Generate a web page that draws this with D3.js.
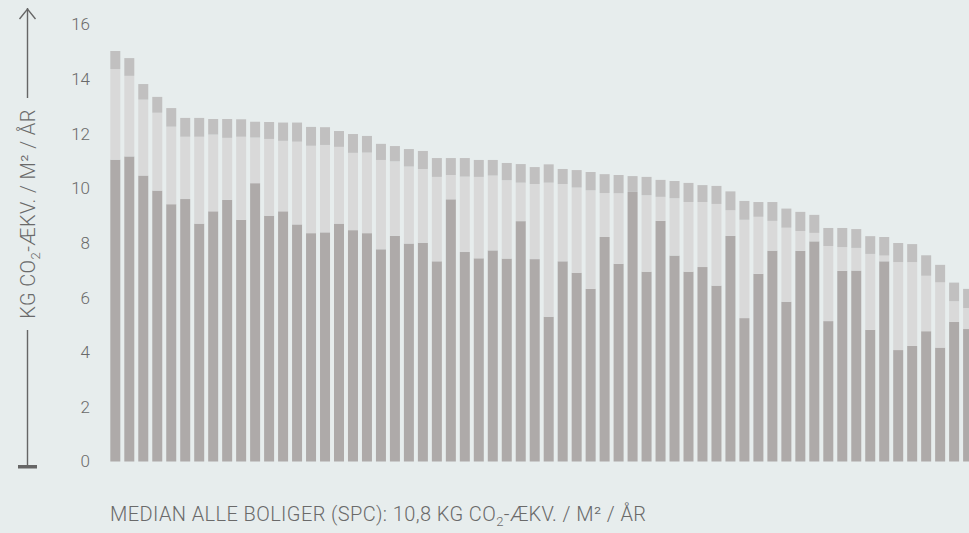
<!DOCTYPE html>
<html>
<head>
<meta charset="utf-8">
<script src="https://cdn.jsdelivr.net/npm/d3@7"></script>
<style>
  html, body { margin: 0; padding: 0; background: #e7eded; }
  svg { display: block; font-family: Roboto, "Noto Sans", sans-serif; }
</style>
</head>
<body>
<svg id="chart"></svg>
<script>
// The svg
var width = 969;
var height = 533;

// Boliger sorteret efter samlet udledning (kg CO2-ækv. / m2 / år)
const boliger = d3.range(62);

// Nederste del (mørk)
const bund = [11.05, 11.17, 10.47, 9.92, 9.42, 9.61, 8.71, 9.16, 9.58, 8.85,
              10.19, 9.00, 9.16, 8.68, 8.36, 8.39, 8.71, 8.47, 8.36, 7.77,
              8.26, 7.98, 8.01, 7.33, 9.60, 7.67, 7.44, 7.73, 7.43, 8.80,
              7.41, 5.30, 7.33, 6.91, 6.32, 8.22, 7.24, 9.87, 6.95, 8.81,
              7.54, 6.95, 7.12, 6.44, 8.26, 5.25, 6.87, 7.72, 5.85, 7.71,
              8.06, 5.14, 6.98, 6.99, 4.82, 7.33, 4.08, 4.23, 4.77, 4.17,
              5.11, 4.85];

// Midterste del (lys)
const midte = [3.32, 2.95, 2.78, 2.85, 2.84, 2.28, 3.18, 2.81, 2.27, 3.04,
               1.67, 2.81, 2.58, 3.03, 3.20, 3.20, 2.81, 2.83, 2.95, 3.27,
               2.73, 2.82, 2.70, 3.09, 0.89, 2.76, 2.98, 2.74, 2.87, 1.41,
               2.75, 4.91, 2.83, 3.12, 3.61, 1.61, 2.58, 0.00, 2.80, 0.88,
               2.10, 2.55, 2.38, 2.99, 0.94, 3.60, 2.09, 1.09, 2.71, 0.73,
               0.31, 2.75, 0.87, 0.83, 2.78, 0.21, 3.22, 3.07, 2.03, 2.39,
               0.76, 0.77];

// Øverste del (mellem)
const top_ = [0.66, 0.65, 0.57, 0.58, 0.68, 0.69, 0.69, 0.57, 0.69, 0.64,
              0.58, 0.62, 0.67, 0.70, 0.69, 0.65, 0.58, 0.69, 0.61, 0.59,
              0.56, 0.64, 0.66, 0.69, 0.62, 0.68, 0.62, 0.57, 0.63, 0.68,
              0.62, 0.67, 0.55, 0.64, 0.67, 0.69, 0.67, 0.58, 0.67, 0.62,
              0.63, 0.70, 0.62, 0.66, 0.69, 0.69, 0.54, 0.69, 0.70, 0.70,
              0.66, 0.66, 0.70, 0.69, 0.65, 0.68, 0.70, 0.66, 0.75, 0.64,
              0.68, 0.70];

const yTicks = [0, 2, 4, 6, 8, 10, 12, 14, 16];
const keys = ["bund", "midte", "top"];
const colors = { bund: "#aeaaa9", midte: "#d9d9d9", top: "#c1c0c0" };

const textColor = "#6a6a6a";
const axisColor = "#666666";

const svg = d3.select("#chart")
    .attr("width", width)
    .attr("height", height);

svg.append("rect")
    .attr("width", width)
    .attr("height", height)
    .attr("fill", "#e7eded");

// Scales
const x = d3.scaleBand()
    .domain(boliger)
    .range([108.33, 108.33 + 62 * 13.98])
    .paddingInner(0.285)
    .paddingOuter(0.1425);

const y = d3.scaleLinear()
    .domain([0, 16])
    .range([461.5, 24.5]);

// Stack the data
const rows = boliger.map(i => ({ bund: bund[i], midte: midte[i], top: top_[i] }));
const series = d3.stack().keys(keys)(rows);

svg.append("g")
    .attr("class", "bars")
    .selectAll("g")
    .data(series)
    .join("g")
      .attr("fill", d => colors[d.key])
    .selectAll("rect")
    .data(d => d.map((v, i) => ({ v, i })))
    .join("rect")
      .attr("x", d => x(d.i))
      .attr("y", d => y(d.v[1]))
      .attr("width", x.bandwidth())
      .attr("height", d => Math.max(0, y(d.v[0]) - y(d.v[1])));

// Y tick labels
const yAxis = d3.axisLeft(y).tickValues(yTicks).tickSize(0).tickPadding(0);
const gy = svg.append("g")
    .attr("transform", "translate(90,0)")
    .call(yAxis);
gy.select(".domain").remove();
gy.selectAll("text")
    .attr("fill", textColor)
    .style("font-size", "17px")
    .style("font-weight", 300)
    .style("font-family", "Roboto, sans-serif");

// Y axis arrow line with label
const axisX = 27.5;
const labelY = 214;
const labelHalf = 116;
svg.append("line")
    .attr("x1", axisX).attr("x2", axisX)
    .attr("y1", 8).attr("y2", labelY - labelHalf)
    .attr("stroke", axisColor).attr("stroke-width", 1.4);
svg.append("line")
    .attr("x1", axisX).attr("x2", axisX)
    .attr("y1", labelY + labelHalf).attr("y2", 466)
    .attr("stroke", axisColor).attr("stroke-width", 1.4);
svg.append("path")
    .attr("d", `M${axisX - 8},19 L${axisX},9 L${axisX + 8},19`)
    .attr("fill", "none")
    .attr("stroke", axisColor)
    .attr("stroke-width", 1.4);
svg.append("rect")
    .attr("x", 18).attr("y", 465)
    .attr("width", 19).attr("height", 3.5)
    .attr("fill", axisColor);

function unitText(sel) {
    sel.append("tspan").text("KG CO");
    sel.append("tspan").attr("dy", 5).style("font-size", "13px").text("2");
    sel.append("tspan").attr("dy", -5).text("-ÆKV. / M² / ÅR");
}

const ylab = svg.append("text")
    .attr("transform", `translate(${axisX + 7},${labelY}) rotate(-90)`)
    .attr("text-anchor", "middle")
    .attr("fill", textColor)
    .style("font-size", "20px")
    .style("letter-spacing", "0.4px")
    .style("font-weight", 300);
unitText(ylab);

// Median note
const note = svg.append("text")
    .attr("x", 110)
    .attr("y", 521)
    .attr("fill", textColor)
    .style("font-size", "20px")
    .style("letter-spacing", "0.4px")
    .style("font-weight", 300);
note.append("tspan").text("MEDIAN ALLE BOLIGER (SPC): 10,8 ");
unitText(note);
</script>
</body>
</html>
